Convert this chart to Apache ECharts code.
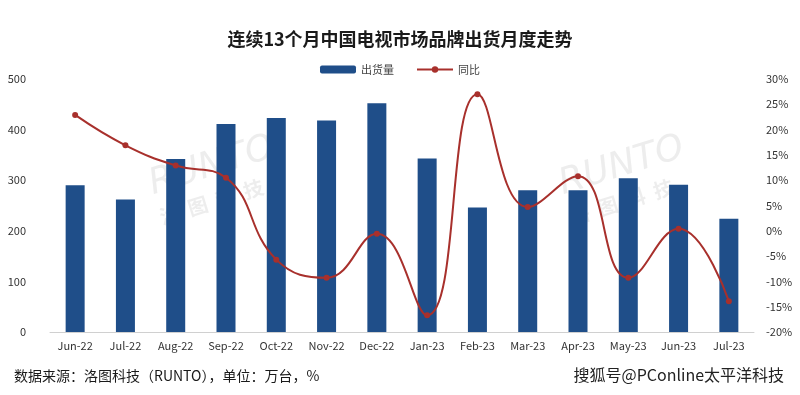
<!DOCTYPE html>
<html>
<head>
<meta charset="utf-8">
<script src="https://cdn.jsdelivr.net/npm/echarts@6/dist/echarts.min.js"></script>
<style>
html,body{margin:0;padding:0;background:#fff;}
#chart{width:800px;height:395px;}
</style>
</head>
<body>
<div id="chart"></div>
<script>
var categories = ['Jun-22','Jul-22','Aug-22','Sep-22','Oct-22','Nov-22','Dec-22','Jan-23','Feb-23','Mar-23','Apr-23','May-23','Jun-23','Jul-23'];
var shipments = [290, 262, 342, 411, 423, 418, 452, 343, 246, 280, 280, 304, 291, 224];
var yoy = [22.9, 16.9, 12.9, 10.5, -5.7, -9.3, -0.6, -16.7, 27.0, 4.7, 10.8, -9.3, 0.4, -13.9];
var leftTicks = [0, 100, 200, 300, 400, 500];
var rightTicks = [-20, -15, -10, -5, 0, 5, 10, 15, 20, 25, 30];

var font = '"Noto Sans CJK SC", "Noto Sans", sans-serif';
var wm = 'rgba(190,190,190,0.28)';
var chart = echarts.init(document.getElementById('chart'));
chart.setOption({
  backgroundColor: '#fff',
  animation: false,
  title: {
    text: '连续13个月中国电视市场品牌出货月度走势',
    left: 'center', top: 25,
    textStyle: {fontFamily: font, fontSize: 18, fontWeight: 'bold', color: '#1a1a1a'}
  },
  legend: {
    top: 59, left: 'center', itemGap: 22,
    textStyle: {fontFamily: font, fontSize: 11, color: '#444'},
    data: [
      {name: '出货量', icon: 'roundRect', itemStyle: {color: '#1f4e89'}},
      {name: '同比'}
    ],
    itemWidth: 36, itemHeight: 8
  },
  grid: {left: 50, right: 46, top: 79, bottom: 63},
  xAxis: {
    type: 'category', data: categories,
    axisLine: {lineStyle: {color: '#d0d0d0'}},
    axisTick: {show: false},
    axisLabel: {fontFamily: font, fontSize: 11, color: '#333', margin: 8, interval: 0}
  },
  yAxis: [
    {
      type: 'value', min: leftTicks[0], max: leftTicks[leftTicks.length - 1], interval: 100,
      axisLabel: {fontFamily: font, fontSize: 11, color: '#333', margin: 24},
      splitLine: {show: false}, axisLine: {show: false}, axisTick: {show: false}
    },
    {
      type: 'value', min: rightTicks[0], max: rightTicks[rightTicks.length - 1], interval: 5,
      axisLabel: {fontFamily: font, fontSize: 11, color: '#333', formatter: '{value}%', margin: 12},
      splitLine: {show: false}, axisLine: {show: false}, axisTick: {show: false}
    }
  ],
  graphic: [
    {type: 'group', left: 145, top: 130, rotation: 0.3, silent: true, children: [
      {type: 'text', style: {text: 'RUNTO', font: 'italic 36px "DejaVu Sans"', fill: wm, x: 0, y: 0}},
      {type: 'text', style: {text: '洛  图  科  技', font: 'bold 20px "Noto Sans CJK SC"', fill: wm, x: 0, y: 42}}
    ]},
    {type: 'group', left: 555, top: 130, rotation: 0.3, silent: true, children: [
      {type: 'text', style: {text: 'RUNTO', font: 'italic 36px "DejaVu Sans"', fill: wm, x: 0, y: 0}},
      {type: 'text', style: {text: '洛  图  科  技', font: 'bold 20px "Noto Sans CJK SC"', fill: wm, x: 0, y: 42}}
    ]},
    {type: 'text', left: 14, top: 369, style: {text: '数据来源：洛图科技（RUNTO），单位：万台，%', font: '14px "Noto Sans CJK SC"', fill: '#1a1a1a'}},
    {type: 'text', right: 16, top: 367, style: {text: '搜狐号@PConline太平洋科技', font: '16px "Noto Sans CJK SC"', fill: '#222'}}
  ],
  series: [
    {
      name: '出货量', type: 'bar', data: shipments, barWidth: 19,
      itemStyle: {color: '#1f4e89'}, z: 2
    },
    {
      name: '同比', type: 'line', yAxisIndex: 1, data: yoy, smooth: 0.45,
      symbol: 'circle', symbolSize: 6,
      lineStyle: {color: '#a8302c', width: 2},
      itemStyle: {color: '#a8302c'}, z: 3
    }
  ]
});
</script>
</body>
</html>
